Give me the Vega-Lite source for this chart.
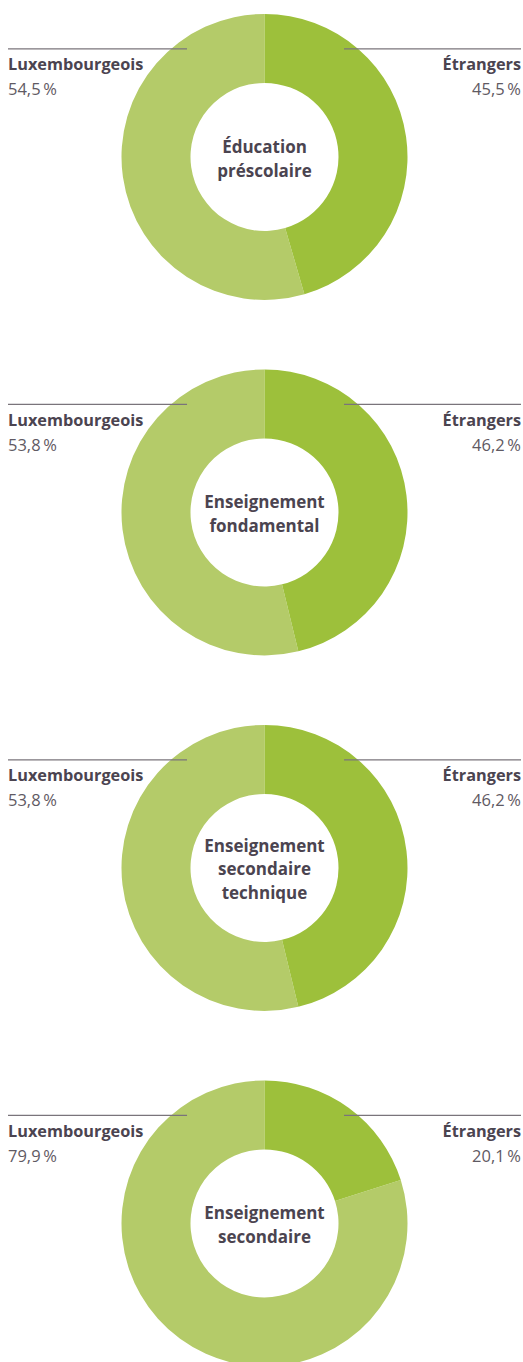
{
  "$schema": "https://vega.github.io/schema/vega-lite/v6.json",
  "width": 513,
  "height": 1362,
  "autosize": {"type": "none"},
  "padding": {"left": 8, "right": 2, "top": 0, "bottom": 0},
  "background": "#ffffff",
  "config": {
    "view": {"stroke": null},
    "locale": {"number": {"decimal": ",", "thousands": " ", "grouping": [3], "currency": ["", " €"], "percent": "\u2009%"}},
    "text": {"font": "Open Sans"}
  },
  "data": {"values": [
    {"niveau": "Éducation préscolaire", "titre": "Éducation\npréscolaire", "groupe": "Luxembourgeois", "pct": 0.545},
    {"niveau": "Éducation préscolaire", "titre": "Éducation\npréscolaire", "groupe": "Étrangers", "pct": 0.455},
    {"niveau": "Enseignement fondamental", "titre": "Enseignement\nfondamental", "groupe": "Luxembourgeois", "pct": 0.538},
    {"niveau": "Enseignement fondamental", "titre": "Enseignement\nfondamental", "groupe": "Étrangers", "pct": 0.462},
    {"niveau": "Enseignement secondaire technique", "titre": "Enseignement\nsecondaire\ntechnique", "groupe": "Luxembourgeois", "pct": 0.538},
    {"niveau": "Enseignement secondaire technique", "titre": "Enseignement\nsecondaire\ntechnique", "groupe": "Étrangers", "pct": 0.462},
    {"niveau": "Enseignement secondaire", "titre": "Enseignement\nsecondaire", "groupe": "Luxembourgeois", "pct": 0.799},
    {"niveau": "Enseignement secondaire", "titre": "Enseignement\nsecondaire", "groupe": "Étrangers", "pct": 0.201}
  ]},
  "encoding": {
    "y": {"field": "niveau", "type": "nominal", "axis": null,
      "scale": {"type": "point", "domain": ["Éducation préscolaire", "Enseignement fondamental", "Enseignement secondaire technique", "Enseignement secondaire"], "padding": 0.4156, "align": 0.531}}
  },
  "layer": [
    {
      "transform": [{"stack": "pct", "groupby": ["niveau"], "sort": [{"field": "groupe", "order": "descending"}], "as": ["t0", "t1"]}],
      "mark": {"type": "arc", "outerRadius": 143, "innerRadius": 74},
      "encoding": {
        "x": {"datum": 0, "type": "quantitative", "scale": {"domain": [-1, 1]}, "axis": null},
        "theta": {"field": "t0", "type": "quantitative", "scale": {"domain": [0, 1]}, "stack": null},
        "theta2": {"field": "t1"},
        "color": {"field": "groupe", "type": "nominal", "legend": null,
          "scale": {"domain": ["Étrangers", "Luxembourgeois"], "range": ["#9dc03b", "#b4cb69"]}}
      }
    },
    {
      "transform": [{"filter": "datum.groupe === 'Luxembourgeois'"}],
      "mark": {"type": "rule", "color": "#7a747b", "strokeWidth": 1.4, "yOffset": -108},
      "encoding": {
        "x": {"datum": -1, "type": "quantitative"},
        "x2": {"datum": -0.302}
      }
    },
    {
      "transform": [{"filter": "datum.groupe === 'Étrangers'"}],
      "mark": {"type": "rule", "color": "#7a747b", "strokeWidth": 1.4, "yOffset": -108},
      "encoding": {
        "x": {"datum": 0.31, "type": "quantitative"},
        "x2": {"datum": 1}
      }
    },
    {
      "transform": [{"filter": "datum.groupe === 'Luxembourgeois'"}],
      "mark": {"type": "text", "align": "left", "baseline": "alphabetic", "fontWeight": "bold", "fontSize": 16.3, "color": "#4b4450", "yOffset": -86.5},
      "encoding": {"x": {"datum": -1, "type": "quantitative"}, "text": {"field": "groupe"}}
    },
    {
      "transform": [{"filter": "datum.groupe === 'Luxembourgeois'"}],
      "mark": {"type": "text", "align": "left", "baseline": "alphabetic", "fontSize": 16.5, "color": "#5f5a63", "yOffset": -61.5},
      "encoding": {"x": {"datum": -1, "type": "quantitative"}, "text": {"field": "pct", "type": "quantitative", "format": ".1%"}}
    },
    {
      "transform": [{"filter": "datum.groupe === 'Étrangers'"}],
      "mark": {"type": "text", "align": "right", "baseline": "alphabetic", "fontWeight": "bold", "fontSize": 16.3, "color": "#4b4450", "yOffset": -86.5},
      "encoding": {"x": {"datum": 1, "type": "quantitative"}, "text": {"field": "groupe"}}
    },
    {
      "transform": [{"filter": "datum.groupe === 'Étrangers'"}],
      "mark": {"type": "text", "align": "right", "baseline": "alphabetic", "fontSize": 16.5, "color": "#5f5a63", "yOffset": -61.5},
      "encoding": {"x": {"datum": 1, "type": "quantitative"}, "text": {"field": "pct", "type": "quantitative", "format": ".1%"}}
    },
    {
      "transform": [{"filter": "datum.groupe === 'Luxembourgeois' && indexof(datum.titre, 'technique') < 0"}],
      "mark": {"type": "text", "align": "center", "baseline": "middle", "fontWeight": "bold", "fontSize": 17, "color": "#4b4450", "lineBreak": "\n", "lineHeight": 24, "yOffset": -9},
      "encoding": {"x": {"datum": 0, "type": "quantitative"}, "text": {"field": "titre"}}
    },
    {
      "transform": [{"filter": "datum.groupe === 'Luxembourgeois' && indexof(datum.titre, 'technique') >= 0"}],
      "mark": {"type": "text", "align": "center", "baseline": "middle", "fontWeight": "bold", "fontSize": 17, "color": "#4b4450", "lineBreak": "\n", "lineHeight": 23.5, "yOffset": -21},
      "encoding": {"x": {"datum": 0, "type": "quantitative"}, "text": {"field": "titre"}}
    }
  ]
}
